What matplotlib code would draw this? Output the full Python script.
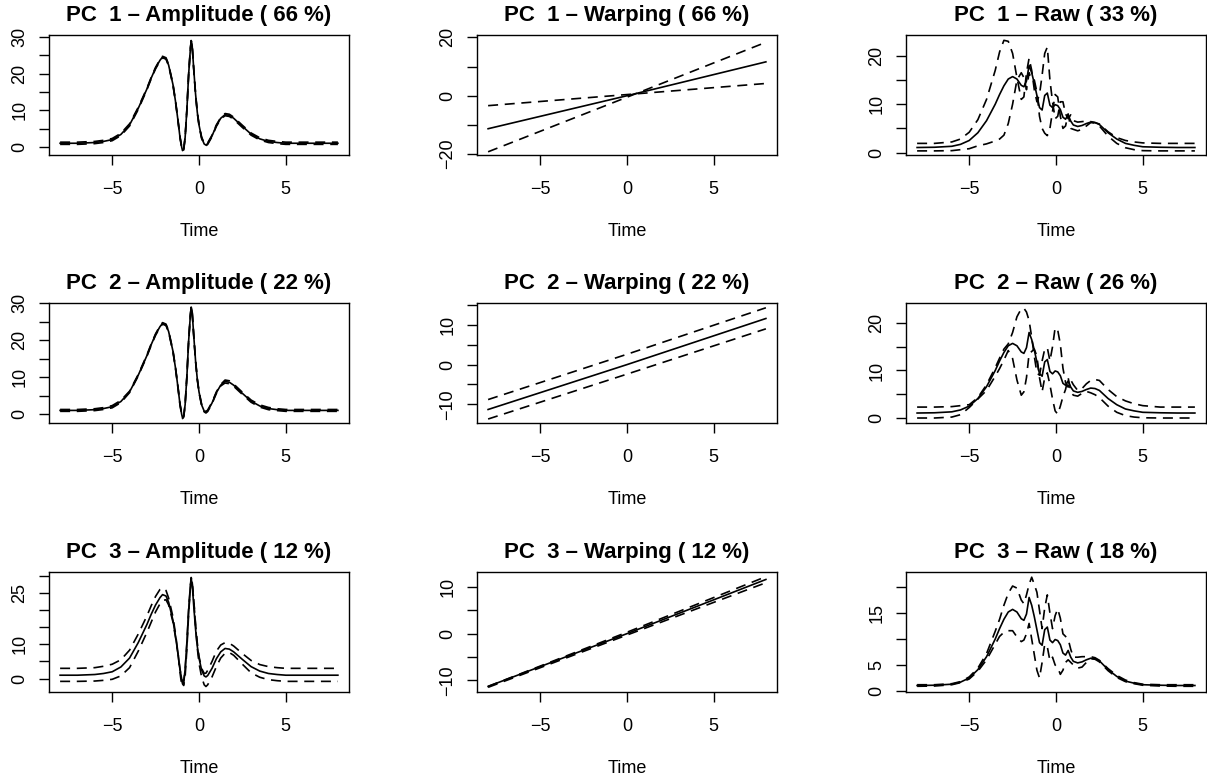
import numpy as np
import matplotlib.pyplot as plt

plt.rcParams['font.family'] = ['Liberation Sans', 'DejaVu Sans']

# time grids
t_amp = [-8, -7, -6, -5.5, -5, -4.5, -4, -3.5, -3, -2.75,
         -2.5, -2.25, -2.1, -1.9, -1.75, -1.5, -1.35, -1.2, -1.1, -1.0,
         -0.95, -0.88, -0.8, -0.7, -0.6, -0.5, -0.45, -0.4, -0.3, -0.2,
         -0.1, 0, 0.15, 0.3, 0.4, 0.5, 0.75, 1.0, 1.25, 1.5,
         1.75, 2.0, 2.5, 3, 3.5, 4, 4.5, 5, 6, 7,
         8]
t_warp = [-8, 0, 8]
t_raw = [-8, -7, -6, -5.5, -5, -4.5, -4, -3.5, -3.25, -3,
         -2.75, -2.5, -2.25, -2, -1.85, -1.7, -1.55, -1.4, -1.25, -1.1,
         -0.95, -0.8, -0.65, -0.5, -0.35, -0.2, -0.05, 0.1, 0.25, 0.4,
         0.55, 0.7, 0.85, 1.0, 1.25, 1.5, 1.75, 2.0, 2.25, 2.5,
         3, 3.5, 4, 4.5, 5, 6, 7, 8]

# amplitude (aligned) curves
amp_mean = [1.0, 1.0, 1.2, 1.5, 2.0, 3.4, 6.0, 10.5, 15.8, 18.8,
            21.5, 23.6, 24.5, 24.1, 22.3, 17.0, 12.3, 6.8, 2.8, 0.0,
            -1.0, -0.6, 2.5, 10.0, 19.5, 26.5, 28.9, 28.0, 21.0, 14.5,
            9.5, 6.0, 2.5, 0.8, 0.5, 0.9, 3.0, 5.8, 7.8, 8.8,
            8.6, 7.8, 5.6, 3.5, 2.2, 1.5, 1.2, 1.0, 1.0, 1.0,
            1.0]
amp1_plus = [1.3, 1.3, 1.5, 1.8, 2.3, 3.7, 6.3, 10.8, 16.0, 19.0,
             21.7, 23.8, 24.7, 24.3, 22.5, 17.2, 12.5, 7.0, 3.0, 0.2,
             -0.8, -0.4, 2.7, 10.2, 19.7, 26.6, 29.0, 28.1, 21.2, 14.7,
             9.7, 6.2, 2.7, 1.0, 0.7, 1.1, 3.2, 6.0, 8.0, 9.1,
             8.9, 8.1, 5.9, 3.8, 2.5, 1.8, 1.5, 1.3, 1.3, 1.3,
             1.3]
amp1_minus = [0.7, 0.7, 0.9, 1.2, 1.7, 3.1, 5.7, 10.2, 15.6, 18.6,
              21.3, 23.4, 24.3, 23.9, 22.1, 16.8, 12.1, 6.6, 2.6, -0.2,
              -1.2, -0.8, 2.3, 9.8, 19.3, 26.4, 28.8, 27.9, 20.8, 14.3,
              9.3, 5.8, 2.3, 0.6, 0.3, 0.7, 2.8, 5.6, 7.6, 8.5,
              8.3, 7.5, 5.3, 3.2, 1.9, 1.2, 0.9, 0.7, 0.7, 0.7,
              0.7]
amp2_plus = [1.25, 1.25, 1.45, 1.75, 2.3, 3.7, 6.2, 10.7, 16.0, 19.0,
             21.7, 23.8, 24.7, 24.3, 22.5, 17.2, 12.5, 7.0, 3.0, 0.2,
             -0.8, -0.4, 2.7, 10.2, 19.7, 26.6, 29.0, 28.1, 21.2, 14.7,
             9.7, 6.2, 2.7, 1.0, 0.7, 1.1, 3.2, 6.0, 8.0, 9.2,
             9.0, 8.1, 5.9, 3.8, 2.5, 1.8, 1.45, 1.25, 1.25, 1.25,
             1.25]
amp2_minus = [0.75, 0.75, 0.95, 1.25, 1.7, 3.1, 5.8, 10.3, 15.6, 18.6,
              21.3, 23.4, 24.3, 23.9, 22.1, 16.8, 12.1, 6.6, 2.6, -0.2,
              -1.2, -0.8, 2.3, 9.8, 19.3, 26.4, 28.8, 27.9, 20.8, 14.3,
              9.3, 5.8, 2.3, 0.6, 0.3, 0.7, 2.8, 5.6, 7.6, 8.4,
              8.2, 7.5, 5.3, 3.2, 1.9, 1.2, 0.95, 0.75, 0.75, 0.75,
              0.75]
amp3_plus = [3.0, 3.0, 3.2, 3.6, 4.2, 5.5, 8.3, 13.0, 18.3, 21.3,
             24.0, 26.0, 26.5, 25.7, 23.5, 18.0, 13.0, 7.0, 2.0, -1.8,
             -2.3, -1.2, 2.5, 10.5, 20.0, 27.0, 29.5, 28.5, 22.5, 16.0,
             10.5, 6.5, 3.0, 1.5, 1.6, 2.4, 5.0, 8.0, 9.8, 10.5,
             10.3, 9.5, 7.3, 5.3, 4.1, 3.5, 3.2, 3.0, 3.0, 3.0,
             3.0]
amp3_minus = [-0.8, -0.8, -0.7, -0.5, -0.2, 0.8, 3.2, 8.0, 13.5, 16.5,
              19.5, 21.8, 22.8, 23.0, 21.5, 16.5, 12.0, 7.0, 3.0, 0.0,
              -1.5, -2.0, 0.5, 8.5, 18.5, 26.5, 29.0, 28.5, 23.0, 15.5,
              9.0, 4.5, 0.5, -1.8, -2.3, -1.8, 0.5, 3.5, 6.0, 7.4,
              7.6, 6.8, 4.2, 1.7, 0.4, -0.3, -0.6, -0.8, -0.8, -0.8,
              -0.8]

# warping functions
warp_mean = [-11.3, 0.0, 11.6]
warp1_plus = [-19.2, -0.5, 18.3]
warp1_minus = [-3.4, 0.4, 4.2]
warp2_plus = [-8.8, 2.6, 14.3]
warp2_minus = [-13.7, -2.4, 9.0]
warp3_plus = [-11.3, 0.3, 12.2]
warp3_minus = [-11.5, -0.3, 10.9]

# raw (unaligned) curves
raw_mean = [1.05, 1.1, 1.3, 1.7, 2.5, 4.1, 6.6, 10.0, 12.0, 13.8,
            15.2, 15.7, 15.2, 13.9, 13.6, 14.8, 18.0, 16.5, 14.3, 11.8,
            9.3, 8.8, 11.8, 12.3, 9.8, 9.3, 9.9, 9.7, 8.9, 7.3,
            6.9, 7.8, 6.5, 5.7, 5.4, 5.6, 6.0, 6.3, 6.2, 5.8,
            4.1, 2.8, 1.9, 1.5, 1.2, 1.1, 1.05, 1.05]
raw1_plus = [1.9, 1.9, 2.2, 2.8, 4.2, 6.8, 11.0, 17.0, 20.8, 23.2,
             23.0, 20.5, 15.5, 11.0, 11.5, 16.5, 19.5, 17.0, 13.0, 10.5,
             12.0, 16.0, 20.5, 21.8, 15.0, 10.5, 7.0, 7.5, 10.5, 10.5,
             8.0, 7.0, 7.8, 6.6, 6.3, 6.4, 6.5, 6.4, 6.2, 5.9,
             4.3, 3.1, 2.5, 2.2, 2.0, 1.9, 1.9, 1.9]
raw1_minus = [0.35, 0.35, 0.4, 0.6, 0.8, 1.4, 1.8, 2.4, 2.8, 3.6,
              6.0, 10.0, 15.0, 16.5, 15.5, 13.0, 16.5, 15.0, 15.0, 12.5,
              7.5, 5.0, 4.0, 3.5, 5.0, 8.5, 12.0, 11.5, 7.5, 5.0,
              5.5, 8.0, 5.0, 4.8, 4.5, 4.8, 5.5, 6.2, 6.1, 5.5,
              3.4, 1.9, 1.0, 0.6, 0.4, 0.35, 0.35, 0.35]
raw2_plus = [2.3, 2.3, 2.4, 2.6, 2.8, 4.3, 7.0, 10.6, 12.6, 14.5,
             15.6, 18.0, 21.3, 23.0, 23.1, 22.3, 20.5, 17.0, 13.0, 9.5,
             9.0, 12.0, 14.5, 14.8, 12.0, 15.0, 19.0, 18.5, 15.5, 10.5,
             7.5, 6.5, 8.0, 7.0, 5.8, 6.2, 7.2, 7.9, 8.1, 7.9,
             6.0, 4.5, 3.6, 3.0, 2.6, 2.3, 2.3, 2.3]
raw2_minus = [0.0, 0.0, 0.2, 0.7, 2.2, 4.0, 5.8, 8.8, 10.4, 12.2,
              14.2, 12.5, 8.0, 4.8, 5.5, 8.5, 13.5, 14.0, 14.5, 13.0,
              8.5, 5.5, 8.5, 9.5, 7.0, 4.0, 1.5, 0.8, 2.5, 4.5,
              6.0, 8.5, 5.5, 4.8, 4.6, 5.2, 5.6, 5.3, 4.9, 4.3,
              2.5, 1.2, 0.5, 0.2, 0.05, 0.0, 0.0, 0.0]
raw3_plus = [1.2, 1.2, 1.4, 1.8, 2.7, 4.4, 7.2, 11.5, 13.8, 16.5,
             18.8, 20.2, 19.8, 17.5, 16.8, 18.5, 20.5, 21.9, 20.5, 19.0,
             15.5, 12.0, 16.0, 18.5, 15.0, 12.0, 14.5, 15.8, 14.0, 11.0,
             10.5, 10.0, 8.0, 6.5, 6.5, 6.6, 6.6, 6.6, 6.4, 5.9,
             4.3, 3.0, 2.1, 1.6, 1.3, 1.2, 1.2, 1.2]
raw3_minus = [0.9, 0.95, 1.2, 1.6, 2.3, 3.8, 6.0, 9.0, 10.5, 11.3,
              11.6, 11.6, 10.4, 9.5, 9.8, 11.0, 13.0, 10.0, 7.0, 4.0,
              2.5, 5.5, 9.0, 8.5, 5.8, 6.5, 5.0, 4.5, 3.2, 4.0,
              5.5, 6.0, 5.5, 5.0, 4.4, 4.6, 5.5, 6.2, 6.1, 5.6,
              3.9, 2.6, 1.8, 1.4, 1.1, 0.95, 0.9, 0.9]

pcs = [1, 2, 3]
amp_pct = [66, 22, 12]
warp_pct = [66, 22, 12]
raw_pct = [33, 26, 18]

x_ticks = [-5, 0, 5]


def lab(v):
    return str(v).replace('-', '\u2212')


# one entry per panel: (row, col, t, mean, plus, minus, title, ylim, ticks)
panels = []
amp_pm = [(amp1_plus, amp1_minus), (amp2_plus, amp2_minus), (amp3_plus, amp3_minus)]
warp_pm = [(warp1_plus, warp1_minus), (warp2_plus, warp2_minus), (warp3_plus, warp3_minus)]
raw_pm = [(raw1_plus, raw1_minus), (raw2_plus, raw2_minus), (raw3_plus, raw3_minus)]
amp_ylim = [(-2.2, 30.5), (-2.4, 30.0), (-3.9, 31.1)]
warp_ylim = [(-20.3, 20.8), (-14.7, 15.5), (-12.5, 13.2)]
raw_ylim = [(-0.5, 24.3), (-1.05, 24.2), (-0.2, 22.9)]
amp_ticks = [(list(range(0, 31, 5)), [0, 10, 20, 30]),
             (list(range(0, 31, 5)), [0, 10, 20, 30]),
             (list(range(0, 31, 5)), [0, 10, 25])]
warp_ticks = [([-20, -10, 0, 10, 20], [-20, 0, 20]),
              ([-10, -5, 0, 5, 10, 15], [-10, 0, 10]),
              ([-10, -5, 0, 5, 10], [-10, 0, 10])]
raw_ticks = [([0, 5, 10, 15, 20], [0, 10, 20]),
             ([0, 5, 10, 15, 20], [0, 10, 20]),
             ([0, 5, 10, 15, 20], [0, 5, 15])]

for i, k in enumerate(pcs):
    panels.append((i, 0, t_amp, amp_mean, amp_pm[i][0], amp_pm[i][1],
                   f'PC  {k} \u2013 Amplitude ( {amp_pct[i]} %)', amp_ylim[i], amp_ticks[i]))
    panels.append((i, 1, t_warp, warp_mean, warp_pm[i][0], warp_pm[i][1],
                   f'PC  {k} \u2013 Warping ( {warp_pct[i]} %)', warp_ylim[i], warp_ticks[i]))
    panels.append((i, 2, t_raw, raw_mean, raw_pm[i][0], raw_pm[i][1],
                   f'PC  {k} \u2013 Raw ( {raw_pct[i]} %)', raw_ylim[i], raw_ticks[i]))

W, H = 1207, 778
fig = plt.figure(figsize=(W / 100, H / 100), dpi=100)

col_left = [49, 477, 906]
row_top = [35, 303, 572]
box_w, box_h = 300, 120

for row, col, t, mean, plus, minus, title, ylim, (ticks, shown) in panels:
    ax = fig.add_axes([col_left[col] / W, 1 - (row_top[row] + box_h) / H, box_w / W, box_h / H])
    ax.plot(t, mean, color='black', lw=1.2)
    for c in (plus, minus):
        ax.plot(t, c, color='black', lw=1.2, dashes=(6, 4))
    ax.set_xlim(-8.64, 8.64)
    ax.set_ylim(*ylim)
    ax.set_xticks(x_ticks)
    ax.set_xticklabels([lab(v) for v in x_ticks])
    ax.set_yticks(ticks)
    ax.set_yticklabels([lab(v) if v in shown else '' for v in ticks], rotation=90, va='center')
    ax.tick_params(axis='both', direction='out', length=7, width=1, labelsize=13)
    ax.tick_params(axis='x', pad=12)
    ax.tick_params(axis='y', pad=8)
    for s in ax.spines.values():
        s.set_linewidth(1)
    ax.set_xlabel('Time', fontsize=13, labelpad=18)
    ax.set_title(title, fontsize=16, fontweight='bold', pad=10)

fig.savefig('out.png', dpi=100)
